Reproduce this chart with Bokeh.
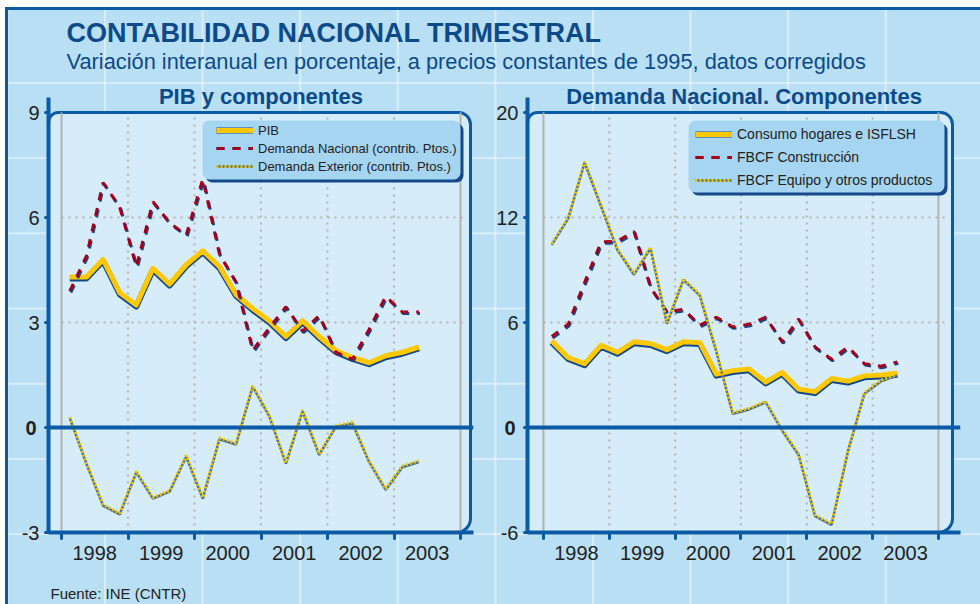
from bokeh.plotting import figure
from bokeh.models import Range1d, FixedTicker, Span, Label, Legend, LegendItem, LinearAxis, Title
from bokeh.layouts import column, row
from bokeh.embed import file_html
from bokeh.resources import INLINE
from bokeh.core.properties import value

# ---------------- data ----------------
years = [1998, 1999, 2000, 2001, 2002, 2003]
year_labels = ["1998", "1999", "2000", "2001", "2002", "2003"]
quarters = [f"{y}-T{q}" for y in years for q in (1, 2, 3, 4)][:22]

pib = [4.3, 4.3, 4.8, 3.85, 3.5, 4.55, 4.1, 4.65, 5.05, 4.6, 3.8,
       3.4, 3.05, 2.6, 3.05, 2.6, 2.2, 2.0, 1.85, 2.05, 2.15, 2.3]
demanda_nacional = [3.9, 4.9, 7.0, 6.3, 4.6, 6.45, 5.85, 5.5, 7.1, 4.95, 4.15,
                    2.2, 2.85, 3.45, 2.75, 3.2, 2.15, 1.95, 2.8, 3.75, 3.3, 3.3]
demanda_exterior = [0.3, -1.0, -2.2, -2.45, -1.25, -2.0, -1.8, -0.8, -2.0, -0.3, -0.45,
                    1.2, 0.35, -1.0, 0.5, -0.75, 0.05, 0.15, -0.95, -1.75, -1.1, -0.95]

consumo = [4.95, 4.0, 3.65, 4.7, 4.3, 4.9, 4.8, 4.45, 4.9, 4.85, 3.05,
           3.25, 3.35, 2.6, 3.15, 2.2, 2.05, 2.8, 2.65, 2.95, 3.0, 3.1]
fbcf_construccion = [5.2, 5.9, 8.3, 10.6, 10.65, 11.2, 8.0, 6.6, 6.75, 5.85, 6.3,
                     5.75, 5.9, 6.3, 4.9, 6.2, 4.6, 3.9, 4.6, 3.65, 3.5, 3.75]
fbcf_equipo = [10.5, 12.0, 15.2, 12.7, 10.2, 8.8, 10.3, 6.0, 8.5, 7.6, 4.4,
               0.85, 1.1, 1.5, -0.1, -1.5, -5.0, -5.5, -1.3, 2.0, 2.7, 3.05]

left_yticks = [-3, 0, 3, 6, 9]
left_ylabels = ["-3", "0", "3", "6", "9"]
right_yticks = [-6, 0, 6, 12, 18]
right_ylabels = ["-6", "0", "6", "12", "20"]

# ---------------- style ----------------
FONT = "Liberation Sans"
DARK = "#0b5aa6"
TITLE_C = "#0c4a8a"
INNER = "#d6edf9"
LEG_BG = "#a6d5f1"
SHADOW = "#16498c"
YELLOW = "#ffc800"
RED = "#a3001e"
DOT_Y = "#ecc800"
DOT_BASE = "#4d6f95"
GRID = "#b3b3b3"
TEXT = "#222222"

xq = [y + (q - 0.5) / 4 for y in years for q in (1, 2, 3, 4)][:len(quarters)]


def build(fw, frame_left_px, frame_right_px, X, Y, y_lo, y_hi, yticks, ylabels, hgrid,
          panel_right_px, title, legend_box, legend_loc, leg_font, leg_h, leg_sp,
          leg_gw, series, dx, dy, fig_left_px, zero_standoff):
    mbl = frame_left_px - fig_left_px
    mbr = 490 - mbl - fw
    p = figure(frame_width=fw, frame_height=435, min_border_left=mbl, min_border_right=mbr,
               min_border_top=17, min_border_bottom=52,
               x_range=Range1d(X(frame_left_px), X(frame_right_px)),
               y_range=Range1d(y_lo, Y(97)),
               toolbar_location=None, output_backend="svg",
               background_fill_color=None, border_fill_color=None, outline_line_color=None)
    p.grid.visible = False

    # inner panel
    p.quad(left=X(frame_left_px), right=X(panel_right_px), bottom=y_lo, top=y_hi,
           fill_color=INNER, line_color=DARK, line_width=3,
           border_radius=(10, 12, 14, 0))
    # vertical guide lines
    edge = [years[0], years[-1] + 1]
    p.segment(x0=edge, y0=[y_lo] * 2, x1=edge, y1=[y_hi] * 2, line_color=GRID, line_width=2)
    inner_years = years[1:]
    p.segment(x0=inner_years, y0=[y_lo] * len(inner_years), x1=inner_years,
              y1=[y_hi] * len(inner_years), line_color=GRID, line_width=2, line_dash="2 5")
    p.segment(x0=[years[0]] * len(hgrid), y0=hgrid, x1=[X(panel_right_px - 4)] * len(hgrid),
              y1=hgrid, line_color=GRID, line_width=2, line_dash="2 5")

    (s1, l1), (s2, l2), (s3, l3) = series
    r1s = p.line(xq, [v - dy for v in s1], line_color=SHADOW, line_width=6, line_join="round")
    r1 = p.line(xq, s1, line_color=YELLOW, line_width=5, line_join="round")
    r2s = p.line([v + dx for v in xq], [v - dy for v in s2], line_color=SHADOW, line_width=3,
                 line_dash="8 8")
    r2 = p.line(xq, s2, line_color=RED, line_width=3, line_dash="8 8")
    r3s = p.line(xq, [v - dy * 0.8 for v in s3], line_color=DOT_BASE, line_width=2.5)
    r3 = p.line(xq, s3, line_color=DOT_Y, line_width=3, line_dash="2 2")

    # legend box with shadow
    bl, bt, br, bb = legend_box
    p.quad(left=X(bl + 3), right=X(br + 3), top=Y(bt + 3), bottom=Y(bb + 3),
           fill_color=SHADOW, line_color=None, border_radius=7)
    p.quad(left=X(bl), right=X(br), top=Y(bt), bottom=Y(bb),
           fill_color=LEG_BG, line_color=None, border_radius=7)

    p.add_layout(Span(location=0, dimension="width", line_color=DARK, line_width=4))

    leg = Legend(items=[LegendItem(label=value(l1), renderers=[r1s, r1]),
                        LegendItem(label=value(l2), renderers=[r2s, r2]),
                        LegendItem(label=value(l3), renderers=[r3s, r3])],
                 location=legend_loc, padding=5, spacing=leg_sp, margin=0,
                 glyph_height=leg_h, label_height=leg_h, glyph_width=leg_gw, label_standoff=5,
                 background_fill_alpha=0, border_line_color=None,
                 label_text_font=FONT, label_text_font_size=leg_font, label_text_color=TEXT)
    p.add_layout(leg)

    ya = p.yaxis[0]
    ya.ticker = FixedTicker(ticks=yticks)
    ya.major_label_overrides = {t: ("" if t == 0 else l) for t, l in zip(yticks, ylabels)}
    ya.axis_line_color = DARK
    ya.axis_line_width = 4
    ya.major_tick_out = 3
    ya.major_tick_in = 0
    ya.major_tick_line_color = DARK
    ya.major_tick_line_width = 3
    ya.major_tick_line_cap = "round"
    ya.minor_tick_line_color = None
    ya.major_label_standoff = 6
    ya.major_label_text_font = FONT
    ya.major_label_text_font_size = "20px"
    ya.major_label_text_color = TEXT

    # bold "0" label on an extra (outer) axis pulled back next to the main one
    zl = {t: l for t, l in zip(yticks, ylabels) if t == 0}
    za = LinearAxis(ticker=FixedTicker(ticks=list(zl.keys())), major_label_overrides=zl,
                    axis_line_color=None, major_tick_line_color=None, minor_tick_line_color=None,
                    major_tick_out=0, major_tick_in=0, minor_tick_out=0, minor_tick_in=0,
                    major_label_standoff=zero_standoff, major_label_text_font=FONT,
                    major_label_text_font_size="20px", major_label_text_font_style="bold",
                    major_label_text_color=TEXT)
    p.add_layout(za, "left")

    xa = p.xaxis[0]
    xa.ticker = FixedTicker(ticks=[y + 0.5 for y in years], minor_ticks=years + [years[-1] + 1])
    xa.major_label_overrides = {y + 0.5: l for y, l in zip(years, year_labels)}
    xa.axis_line_color = DARK
    xa.axis_line_width = 4
    xa.major_tick_line_color = None
    xa.major_tick_out = 0
    xa.major_tick_in = 0
    xa.minor_tick_out = 6
    xa.minor_tick_in = 0
    xa.minor_tick_line_color = DARK
    xa.minor_tick_line_width = 3
    xa.minor_tick_line_cap = "round"
    xa.major_label_standoff = 7
    xa.major_label_text_font = FONT
    xa.major_label_text_font_size = "20px"
    xa.major_label_text_color = TEXT

    p.add_layout(Title(text=title, align="center", standoff=-22, text_font=FONT,
                       text_font_size="22px", text_font_style="bold", text_color=TITLE_C),
                 "above")
    return p


# page-pixel -> data helpers (decoration placement only)
def LX(px):
    return 1998 + (px - 61) / 66.5


def LY(py):
    return 9 - (py - 112) / 35.0


def RX(px):
    return 1998 + (px - 543) / 65.83


def RY(py):
    return 18 - (py - 112) / 17.5


left = build(425, 48, 473, LX, LY, -3, 9, left_yticks, left_ylabels, [3, 6], 470,
             "PIB y componentes", (202, 120, 460, 179), (168, 358), "13px", 16, 2, 37,
             [(pib, "PIB"), (demanda_nacional, "Demanda Nacional (contrib. Ptos.)"),
              (demanda_exterior, "Demanda Exterior (contrib. Ptos.)")],
             1 / 66.5, 1.5 / 35.0, 0, -18)

right = build(433, 527, 960, RX, RY, -6, 18, right_yticks, right_ylabels, [6, 12], 952,
              "Demanda Nacional. Componentes", (688, 120, 944, 192), (168, 342), "14px",
              20, 3, 37,
              [(consumo, "Consumo hogares e ISFLSH"), (fbcf_construccion, "FBCF Construcción"),
               (fbcf_equipo, "FBCF Equipo y otros productos")],
              1 / 65.83, 1.5 / 17.5, 490, -22)


def text_strip(h):
    f = figure(frame_width=980, frame_height=h, x_range=Range1d(0, 980), y_range=Range1d(0, h),
               x_axis_location=None, y_axis_location=None, min_border=0, toolbar_location=None,
               output_backend="svg", background_fill_color=None, border_fill_color=None,
               outline_line_color=None)
    f.grid.visible = False
    return f


hdr = text_strip(80)
hdr.add_layout(Label(x=66, y=80 - 32.5, text="CONTABILIDAD NACIONAL TRIMESTRAL", text_font=FONT,
                     text_font_size="27px", text_font_style="bold", text_color=TITLE_C,
                     text_baseline="middle"))
hdr.add_layout(Label(x=66, y=80 - 61,
                     text="Variación interanual en porcentaje, a precios constantes de 1995, datos corregidos",
                     text_font=FONT, text_font_size="21.8px", text_color=TITLE_C,
                     text_baseline="middle"))

ftr = text_strip(20)
ftr.add_layout(Label(x=50, y=11, text="Fuente: INE (CNTR)", text_font=FONT,
                     text_font_size="15px", text_color=TEXT, text_baseline="middle"))

styles = {
    "background-color": "#b9dff4",
    "background-image": "linear-gradient(to right, rgba(255,255,255,0.45) 0px, rgba(255,255,255,0.45) 2px, transparent 2px), linear-gradient(to bottom, rgba(255,255,255,0.45) 0px, rgba(255,255,255,0.45) 2px, transparent 2px)",
    "background-size": "97.6px 75.2px",
    "background-position": "104px 82px",
    "box-shadow": "inset 5px 7px 0 #ffffff, inset 8px 10px 0 #0b5aa6",
}
layout = column(hdr, row(left, right), ftr, styles=styles)

open("out.html", "w").write(file_html(layout, INLINE))
